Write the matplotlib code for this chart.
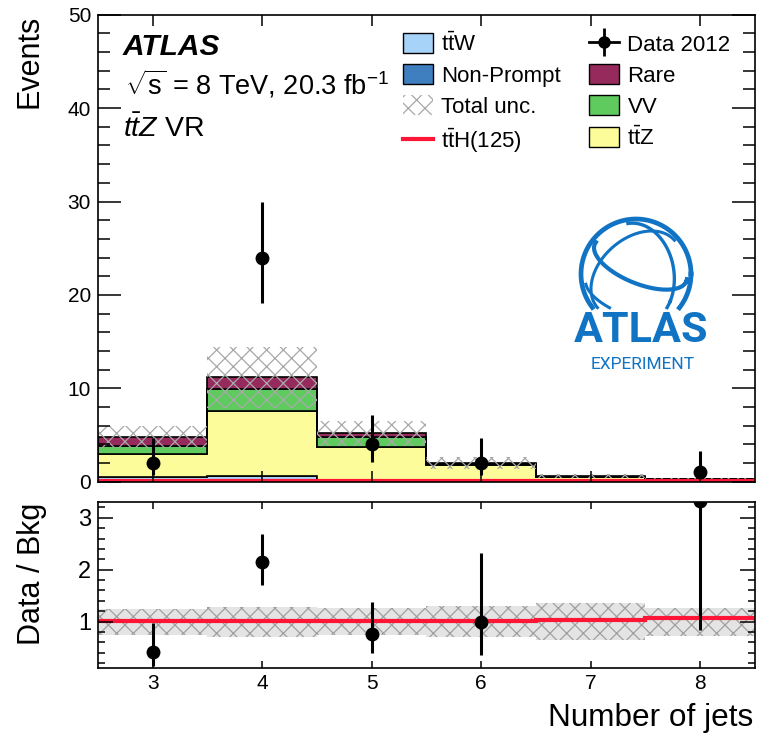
import matplotlib
matplotlib.use('Agg')
import matplotlib.pyplot as plt
import numpy as np
from matplotlib.patches import Patch
from matplotlib.lines import Line2D
from matplotlib.legend_handler import HandlerTuple
from matplotlib.ticker import MultipleLocator, FixedLocator, NullLocator

plt.rcParams['font.family'] = ['Liberation Sans', 'DejaVu Sans']
plt.rcParams['mathtext.fontset'] = 'custom'
plt.rcParams['mathtext.rm'] = 'Liberation Sans'
plt.rcParams['mathtext.it'] = 'Liberation Sans:italic'
plt.rcParams['mathtext.bf'] = 'Liberation Sans:bold'
plt.rcParams['hatch.linewidth'] = 0.9

# --- data ---
njets = [3, 4, 5, 6, 7, 8]
n_nonprompt = [0.10, 0.15, 0.05, 0.02, 0.01, 0.01]
n_ttw = [0.35, 0.45, 0.15, 0.05, 0.04, 0.02]
n_ttz = [2.52, 7.00, 3.55, 1.75, 0.42, 0.17]
n_vv = [0.85, 2.29, 1.00, 0.10, 0.05, 0.04]
n_rare = [0.94, 1.29, 0.44, 0.08, 0.10, 0.06]
n_tth = [0.05, 0.10, 0.05, 0.03, 0.02, 0.02]
rel_unc = [0.25, 0.29, 0.26, 0.30, 0.35, 0.27]

data = [2, 24, 4, 2, 0, 1]
data_err_up = [2.64, 5.99, 3.16, 2.64, 1.84, 2.30]
data_err_dn = [1.29, 4.86, 1.91, 1.29, 0.0, 0.75]

col_ttw = '#a6d3f7'
col_np = '#3f7fc0'
col_rare = '#962a5c'
col_vv = '#5fcb5f'
col_ttz = '#fdfc9a'
col_red = '#ff1535'
col_logo = '#1173c4'

x = np.array(njets, dtype=float)
edges = np.append(x - 0.5, x[-1] + 0.5)

fig = plt.figure(figsize=(7.59, 7.49), dpi=100)
ax = fig.add_axes([0.1291, 0.3569, 0.8656, 0.6234])
rx = fig.add_axes([0.1291, 0.1077, 0.8656, 0.2217])

# stacked backgrounds
layers = [(n_nonprompt, col_np), (n_ttw, col_ttw), (n_ttz, col_ttz),
          (n_vv, col_vv), (n_rare, col_rare)]
bottom = np.zeros(len(x))
for vals, col in layers:
    top = bottom + np.array(vals)
    ax.stairs(top, edges, baseline=bottom, fill=True, facecolor=col,
              edgecolor='black', lw=1.2)
    bottom = top
total = bottom
unc = np.array(rel_unc)

ax.stairs(total * (1 + unc), edges, baseline=total * (1 - unc), fill=True,
          facecolor='none', edgecolor='#a8a8a8', hatch='xx', lw=0)
ax.stairs(n_tth, edges, color=col_red, lw=3, baseline=None)

d = np.array(data, dtype=float)
up = np.array(data_err_up)
dn = np.array(data_err_dn)
m = d > 0
ax.errorbar(x[m], d[m], yerr=[dn[m], up[m]], fmt='o', color='black',
            ms=9, elinewidth=2.2, capsize=0, zorder=5)

ax.set_xlim(2.5, 8.5)
ax.set_ylim(0, 50)
ax.xaxis.set_major_locator(FixedLocator(njets))
ax.xaxis.set_minor_locator(NullLocator())
ax.yaxis.set_major_locator(MultipleLocator(10))
ax.yaxis.set_minor_locator(MultipleLocator(2))
ax.tick_params(which='both', direction='in', top=True, right=True, width=1.1)
ax.tick_params(axis='y', which='major', length=16.5, labelsize=15, pad=5)
ax.tick_params(axis='y', which='minor', length=8.5)
ax.tick_params(axis='x', which='major', length=8, labelbottom=False)
for s in ax.spines.values():
    s.set_linewidth(1.2)
ax.set_ylabel('Events', fontsize=22, loc='top')
ax.yaxis.set_label_coords(-0.081, 1.0)

ax.text(0.038, 0.9145, 'ATLAS', transform=ax.transAxes, fontsize=21.5,
        fontweight='bold', fontstyle='italic', va='baseline')
ax.text(0.041, 0.829, r'$\sqrt{\mathrm{s}}$ = 8 TeV, 20.3 fb$^{-1}$',
        transform=ax.transAxes, fontsize=19.5, va='baseline')
ax.text(0.038, 0.739, r'$t\bar{t}Z$ VR', transform=ax.transAxes,
        fontsize=20.5, va='baseline')

# legend
h_ttw = Patch(facecolor=col_ttw, edgecolor='black', lw=1)
h_np = Patch(facecolor=col_np, edgecolor='black', lw=1)
h_unc = Patch(facecolor='none', edgecolor='#a8a8a8', hatch='xx', lw=0)
h_tth = Line2D([], [], color=col_red, lw=3)
h_data = (Line2D([], [], color='black', lw=2, marker='o', ms=8),
          Line2D([], [], color='black', lw=0, marker='|', ms=20, mew=2))
h_rare = Patch(facecolor=col_rare, edgecolor='black', lw=1)
h_vv = Patch(facecolor=col_vv, edgecolor='black', lw=1)
h_ttz = Patch(facecolor=col_ttz, edgecolor='black', lw=1)
handles = [h_ttw, h_np, h_unc, h_tth, h_data, h_rare, h_vv, h_ttz]
labels = [r'$\mathrm{t\bar{t}W}$', 'Non-Prompt', 'Total unc.',
          r'$\mathrm{t\bar{t}H(125)}$', 'Data 2012', 'Rare', 'VV',
          r'$\mathrm{t\bar{t}Z}$']
ax.legend(handles, labels, ncol=2, loc='upper left',
          bbox_to_anchor=(0.464, 0.9615), frameon=False, fontsize=16,
          borderpad=0, handlelength=1.35, handleheight=1.0,
          handletextpad=0.36, labelspacing=0.38, columnspacing=1.3,
          borderaxespad=0, handler_map={tuple: HandlerTuple(ndivide=1)})

# ratio panel
rx.stairs(1 + unc, edges, baseline=1 - unc, fill=True, facecolor='#e4e4e4',
          edgecolor='#a0a0a0', hatch='xx', lw=0)
rx.stairs((total + np.array(n_tth)) / total, edges, color=col_red, lw=3,
          baseline=None)
r = d / total
rx.errorbar(x[m], r[m], yerr=[dn[m] / total[m], up[m] / total[m]], fmt='o',
            color='black', ms=9, elinewidth=2.2, capsize=0, zorder=5)
rx.set_xlim(2.5, 8.5)
rx.set_ylim(0.1, 3.3)
rx.xaxis.set_major_locator(FixedLocator(njets))
rx.xaxis.set_minor_locator(NullLocator())
rx.yaxis.set_major_locator(MultipleLocator(1))
rx.yaxis.set_minor_locator(MultipleLocator(0.2))
rx.tick_params(which='both', direction='in', top=True, right=True, width=1.1)
rx.tick_params(axis='y', which='major', length=10.8, labelsize=17, pad=5)
rx.tick_params(axis='y', which='minor', length=5)
rx.tick_params(axis='x', which='major', length=5, labelsize=15, pad=4)
for s in rx.spines.values():
    s.set_linewidth(1.2)
rx.set_ylabel('Data / Bkg', fontsize=22, loc='top')
rx.yaxis.set_label_coords(-0.077, 1.0)
rx.set_xlabel('Number of jets', fontsize=22.7, loc='right')
rx.xaxis.set_label_coords(0.997, -0.21)

# ATLAS Experiment logo
lg = fig.add_axes([570 / 759, 1 - 374 / 749, 145 / 759, 164 / 749])
lg.set_xlim(570, 715)
lg.set_ylim(374, 210)
lg.set_aspect('equal')
lg.axis('off')
cx, cy, R = 636.0, 274.0, 55.0
t = np.linspace(0, 2 * np.pi, 400)
ring_x = cx + R * np.cos(t)
ring_y = cy + R * np.sin(t)
ring_x = np.where(ring_y > 308, np.nan, ring_x)
lg.plot(ring_x, ring_y, color=col_logo, lw=3.4)


def rot(p, ax_deg, az_deg):
    a = np.radians(ax_deg)
    b = np.radians(az_deg)
    X, Y, Z = p
    Y, Z = Y * np.cos(a) - Z * np.sin(a), Y * np.sin(a) + Z * np.cos(a)
    X, Y = X * np.cos(b) - Y * np.sin(b), X * np.sin(b) + Y * np.cos(b)
    return X, Y, Z


s = np.linspace(0, 2 * np.pi, 400)
curves = []
for lat, w in [(15, 3.0), (-30, 2.2)]:
    la = np.radians(lat)
    curves.append(((np.cos(la) * np.cos(s), np.cos(la) * np.sin(s),
                    np.full_like(s, np.sin(la))), w))
for lon, w in [(-35, 2.4), (40, 2.2)]:
    lo = np.radians(lon)
    curves.append(((np.cos(s) * np.cos(lo), np.cos(s) * np.sin(lo),
                    np.sin(s)), w))
for p, w in curves:
    X, Y, Z = rot(p, -65, -22)
    Xp = cx + R * 0.93 * np.where(Z < 0, np.nan, X)
    Yp = cy - R * 0.93 * Y
    Xp = np.where(Yp > 308, np.nan, Xp)
    lg.plot(Xp, Yp, color=col_logo, lw=w)

lg.text(641, 342, 'ATLAS', fontsize=31, fontweight='bold', color=col_logo,
        ha='center', va='baseline',
        family=['Liberation Sans Narrow', 'Roboto', 'DejaVu Sans'])
lg.text(643, 369, 'EXPERIMENT', fontsize=12.5, color=col_logo,
        ha='center', va='baseline', family=['Roboto', 'DejaVu Sans'])

fig.savefig('out.png', dpi=100)
